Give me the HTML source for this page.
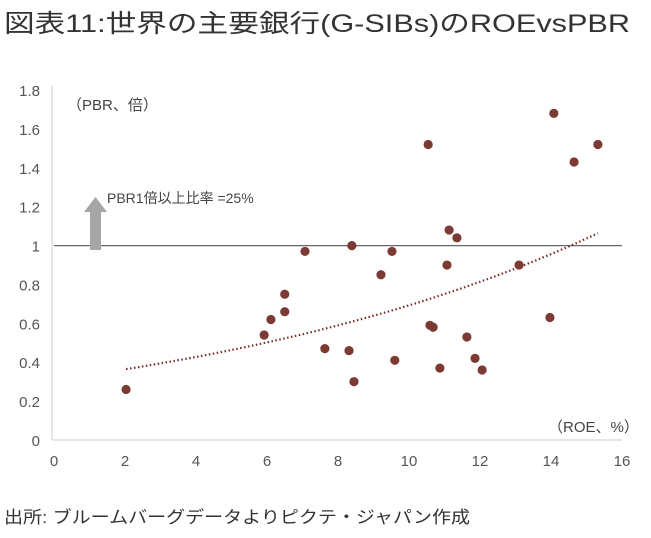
<!DOCTYPE html>
<html><head><meta charset="utf-8"><style>
body{margin:0;background:#fff;width:651px;height:533px;overflow:hidden;font-family:"Liberation Sans","Noto Sans CJK JP",sans-serif;}
</style></head><body>
<svg width="651" height="533" xmlns="http://www.w3.org/2000/svg" font-family="Liberation Sans, Noto Sans CJK JP, sans-serif">
<text x="4" y="32" font-size="25" fill="#333" textLength="626" lengthAdjust="spacingAndGlyphs">図表11:世界の主要銀行(G-SIBs)のROEvsPBR</text>
<text x="4" y="523" font-size="17" fill="#333" textLength="466" lengthAdjust="spacingAndGlyphs">出所: ブルームバーグデータよりピクテ・ジャパン作成</text>
<g id="plot"></g>
</svg>
<script>
const xTicks=[0,2,4,6,8,10,12,14,16];
const yTicks=[0,0.2,0.4,0.6,0.8,1,1.2,1.4,1.6,1.8];
const yTickLabels=["0","0.2","0.4","0.6","0.8","1","1.2","1.4","1.6","1.8"];
const roe=[2.03,5.92,6.11,6.5,6.5,7.07,7.63,8.31,8.39,8.45,9.21,9.52,9.6,10.54,10.59,10.68,10.87,11.07,11.13,11.35,11.63,11.86,12.06,13.1,13.97,14.08,14.65,15.32];
const pbr=[0.26,0.54,0.62,0.75,0.66,0.97,0.47,0.46,1.0,0.30,0.85,0.97,0.41,1.52,0.59,0.58,0.37,0.90,1.08,1.04,0.53,0.42,0.36,0.90,0.63,1.68,1.43,1.52];
const NS="http://www.w3.org/2000/svg";
const g=document.getElementById('plot');
const X=v=>54+v*35.5, Y=v=>440-v*194.4;
function el(t,a){const e=document.createElementNS(NS,t);for(const k in a)e.setAttribute(k,a[k]);g.appendChild(e);return e;}
let e;
e=el('line',{x1:X(0)-2,y1:Y(1.8)-4,x2:X(0)-2,y2:Y(0),stroke:'#ccc','stroke-width':1});


e=el('line',{x1:X(0)-2,y1:Y(0),x2:X(16),y2:Y(0),stroke:'#ccc','stroke-width':1});


yTicks.forEach((v,i)=>{e=el('text',{x:40,y:Y(v)+6,'font-size':15,fill:'#555','text-anchor':'end'});e.textContent=yTickLabels[i];

});
xTicks.forEach(v=>{e=el('text',{x:X(v),y:466,'font-size':15,fill:'#555','text-anchor':'middle'});e.textContent=v;

});
e=el('line',{x1:X(0),y1:Y(1),x2:X(16),y2:Y(1),stroke:'#666','stroke-width':1.2});


e=el('polygon',{points:'90,250 101,250 101,212 107,212 95.5,197 84,212 90,212',fill:'#a6a6a6'});


e=el('text',{x:107,y:203,'font-size':14,fill:'#444'});e.textContent='PBR1倍以上比率 =25%';


e=el('text',{x:67,y:110,'font-size':15,fill:'#444'});e.textContent='（PBR、倍）';


e=el('text',{x:548,y:432,'font-size':15,fill:'#444'});e.textContent='（ROE、%）';


const n=roe.length;let sx=0,sy=0,sxx=0,sxy=0;
for(let i=0;i<n;i++){const l=Math.log(pbr[i]);sx+=roe[i];sy+=l;sxx+=roe[i]*roe[i];sxy+=roe[i]*l;}
const b=(n*sxy-sx*sy)/(n*sxx-sx*sx),a=(sy-b*sx)/n;
const x0=Math.min(...roe),x1=Math.max(...roe);let d='';
for(let k=0;k<=60;k++){const xv=x0+(x1-x0)*k/60;d+=(k?'L':'M')+X(xv).toFixed(1)+','+Y(Math.exp(a+b*xv)).toFixed(1);}
e=el('path',{d:d,fill:'none',stroke:'#7a2a2a','stroke-width':2.2,'stroke-dasharray':'1.5,2.5'});


for(let i=0;i<n;i++){e=el('circle',{cx:X(roe[i]),cy:Y(pbr[i]),r:4.6,fill:'#7b3a33'});

}
</script>
</body></html>
